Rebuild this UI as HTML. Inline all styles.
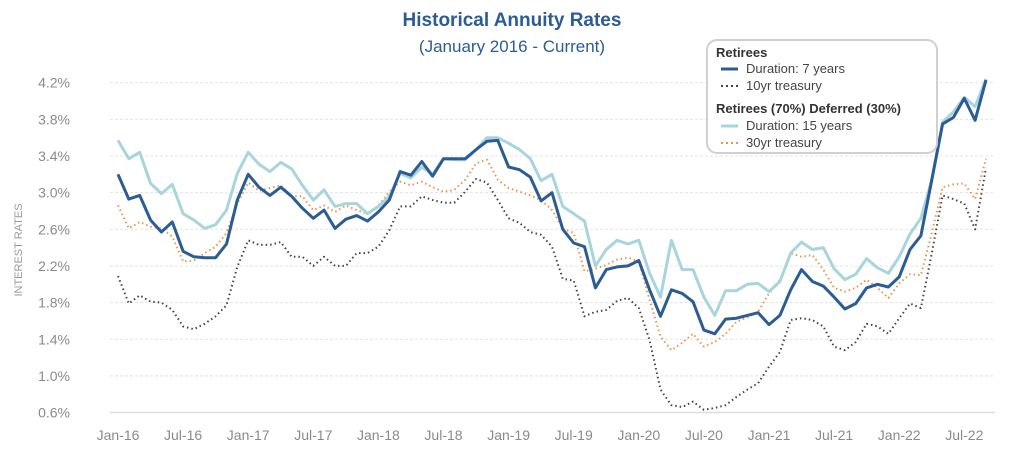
<!DOCTYPE html>
<html><head><meta charset="utf-8"><style>
body{margin:0;background:#fff;font-family:"Liberation Sans",sans-serif}
#wrap{position:relative;width:1024px;height:454px;overflow:hidden}
svg{position:absolute;left:0;top:0}
</style></head><body>
<div id="wrap">
<svg id="chart" width="1024" height="454">
<text x="512" y="26" text-anchor="middle" font-size="19" font-weight="bold" fill="#2b5c94">Historical Annuity Rates</text>
<text x="512" y="52" text-anchor="middle" font-size="17" fill="#2b5c94">(January 2016 - Current)</text>
<text transform="translate(22,250) rotate(-90)" text-anchor="middle" font-size="11" fill="#999">INTEREST RATES</text>
<g id="grid"></g>
<g id="yticks"></g>
<g id="xticks"></g>
<g id="series"></g>
<g>
<rect x="707" y="40" width="230" height="113" rx="10" fill="#fff" stroke="#d0d0d0" stroke-width="2"/>
<text x="716" y="57" font-size="13" font-weight="bold" fill="#333">Retirees</text>
<line x1="721" y1="69" x2="738" y2="69" stroke="#2b5c94" stroke-width="3"/>
<text x="746" y="73" font-size="13" fill="#444">Duration: 7 years</text>
<line x1="721" y1="86" x2="738" y2="86" stroke="#444" stroke-width="2" stroke-dasharray="2,3"/>
<text x="746" y="90" font-size="13" fill="#444">10yr treasury</text>
<text x="716" y="113" font-size="13" font-weight="bold" fill="#333">Retirees (70%) Deferred (30%)</text>
<line x1="721" y1="126" x2="738" y2="126" stroke="#a8d5dc" stroke-width="3"/>
<text x="746" y="130" font-size="13" fill="#444">Duration: 15 years</text>
<line x1="721" y1="143" x2="738" y2="143" stroke="#e8954a" stroke-width="2" stroke-dasharray="2,3"/>
<text x="746" y="147" font-size="13" fill="#444">30yr treasury</text>
</g>
</svg></div>
<script>
const yTicks=[0.6,1.0,1.4,1.8,2.2,2.6,3.0,3.4,3.8,4.2];
const xTickLabels=["Jan-16","Jul-16","Jan-17","Jul-17","Jan-18","Jul-18","Jan-19","Jul-19","Jan-20","Jul-20","Jan-21","Jul-21","Jan-22","Jul-22"];
const dur7=[3.20,2.93,2.97,2.70,2.57,2.68,2.36,2.30,2.29,2.29,2.44,2.92,3.20,3.06,2.97,3.06,2.96,2.83,2.72,2.81,2.61,2.71,2.75,2.69,2.79,2.92,3.23,3.19,3.34,3.18,3.37,3.37,3.37,3.47,3.56,3.57,3.28,3.25,3.17,2.91,3.00,2.60,2.45,2.41,1.96,2.16,2.19,2.20,2.26,1.94,1.65,1.94,1.90,1.81,1.50,1.46,1.62,1.63,1.66,1.69,1.56,1.66,1.94,2.16,2.03,1.98,1.86,1.73,1.79,1.96,2.00,1.97,2.08,2.38,2.53,3.14,3.75,3.82,4.03,3.79,4.23];
const dur15=[3.57,3.37,3.44,3.10,2.99,3.09,2.77,2.70,2.61,2.65,2.81,3.21,3.44,3.31,3.23,3.33,3.26,3.08,2.92,3.03,2.85,2.88,2.88,2.77,2.85,2.96,3.21,3.16,3.28,3.20,3.37,3.36,3.36,3.47,3.60,3.60,3.54,3.47,3.37,3.13,3.20,2.85,2.77,2.69,2.20,2.38,2.48,2.44,2.48,2.12,1.86,2.48,2.16,2.16,1.86,1.66,1.93,1.93,2.00,2.01,1.92,2.03,2.34,2.46,2.38,2.40,2.17,2.05,2.11,2.28,2.18,2.12,2.30,2.55,2.72,3.14,3.77,3.88,4.04,3.94,4.24];
const t30=[2.86,2.61,2.68,2.63,2.61,2.52,2.25,2.26,2.34,2.41,2.56,2.88,3.11,3.02,3.05,3.08,2.96,2.96,2.81,2.86,2.79,2.86,2.81,2.77,2.86,3.01,3.12,3.08,3.12,3.06,3.01,3.03,3.14,3.32,3.36,3.14,3.05,3.01,2.97,2.92,2.81,2.61,2.56,2.14,2.17,2.21,2.27,2.29,2.25,1.83,1.43,1.28,1.36,1.46,1.32,1.37,1.46,1.59,1.64,1.70,1.90,2.05,2.34,2.30,2.32,2.16,1.96,1.92,1.96,2.05,1.96,1.85,2.01,2.11,2.10,2.56,3.06,3.09,3.10,2.93,3.37];
const t10=[2.09,1.79,1.88,1.81,1.80,1.72,1.54,1.51,1.57,1.65,1.77,2.19,2.48,2.43,2.43,2.46,2.30,2.30,2.20,2.30,2.20,2.20,2.34,2.34,2.41,2.59,2.85,2.85,2.96,2.92,2.89,2.89,3.01,3.15,3.11,2.92,2.72,2.67,2.57,2.54,2.41,2.06,2.04,1.65,1.70,1.72,1.82,1.85,1.74,1.39,0.85,0.68,0.66,0.72,0.63,0.65,0.68,0.77,0.85,0.92,1.10,1.26,1.61,1.63,1.61,1.54,1.32,1.28,1.37,1.57,1.54,1.46,1.63,1.79,1.74,2.34,2.97,2.93,2.88,2.60,3.27];
const NS="http://www.w3.org/2000/svg";
const X0=118,DX=10.85;
function xPos(i){return X0+i*DX;}
function yPos(v){return 82.7+(4.2-v)/0.4*36.65;}
function mk(tag,attrs,parent){const e=document.createElementNS(NS,tag);for(const k in attrs)e.setAttribute(k,attrs[k]);parent.appendChild(e);return e;}
const grid=document.getElementById('grid'),yt=document.getElementById('yticks'),xt=document.getElementById('xticks'),ser=document.getElementById('series');
yTicks.forEach((v,i)=>{
  const y=yPos(v);
  const l=mk('line',{x1:110,x2:995,y1:y,y2:y,stroke:i===0?'#ddd':'#e4e4e4','stroke-width':i===0?1.5:1,'stroke-dasharray':i===0?'':'3,2'},grid);
  
  
  const t=mk('text',{x:70,y:y+5,'text-anchor':'end','font-size':14,fill:'#8a8a8a'},yt);
  t.textContent=v.toFixed(1)+'%';
  
  
});
xTickLabels.forEach((s,i)=>{
  const t=mk('text',{x:xPos(i*6),y:440,'text-anchor':'middle','font-size':14,fill:'#8a8a8a'},xt);
  t.textContent=s;
  
  
});
function line(data,color,w,dash,name){
  const d=data.map((v,i)=>(i?'L':'M')+xPos(i).toFixed(1)+','+yPos(v).toFixed(1)).join('');
  const p=mk('path',{d:d,fill:'none',stroke:color,'stroke-width':w,'stroke-linejoin':'round','stroke-dasharray':dash},ser);
  
  
}
line(t10,'#444',2,'1.5,3','line-10yr-treasury');
line(t30,'#e8954a',2,'1.5,3','line-30yr-treasury');
line(dur15,'#a8d5dc',3,'','line-duration-15-years');
line(dur7,'#2b5c94',3,'','line-duration-7-years');
</script>
</body></html>
